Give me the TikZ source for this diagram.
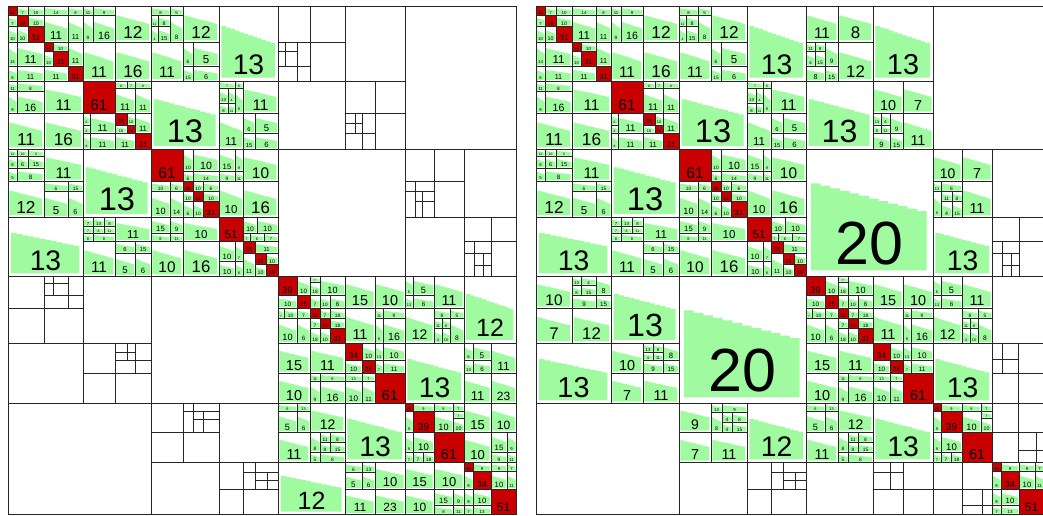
\documentclass[tikz,border=0pt]{standalone}
\usepackage{fontspec}
\setmainfont{Liberation Sans}
\definecolor{lrgreen}{RGB}{160,250,160}
\definecolor{dnred}{RGB}{200,0,0}
\tikzset{
  blk/.style={draw=black!85, line width=0.9pt},
  lrfill/.style={fill=lrgreen},
  dnfill/.style={fill=dnred},
  lab/.style={inner sep=0pt, anchor=base, text=black}
}
% low rank block: x1 y1 x2 y2 rank
\newcommand{\lrb}[5]{%
  \pgfmathsetmacro\blkw{#3-#1}%
  \pgfmathsetmacro\blkh{#4-#2}%
  \pgfmathsetmacro\blkfs{0.48*min(\blkw,\blkh)}%
  \pgfmathsetmacro\blkxl{#1+0.04*\blkw}%
  \pgfmathsetmacro\blkst{0.91*\blkw/12}%
  \pgfmathsetmacro\blkyb{#4-0.045*\blkh}%
  \fill[lrfill] (\blkxl,\blkyb)
    \foreach \k in {0,...,11}{
      -- ({\blkxl+\k*\blkst},{#2+\blkh*(0.27+0.02*\k)})
      -- ({\blkxl+(\k+1)*\blkst},{#2+\blkh*(0.27+0.02*\k)})}
    -- ({\blkxl+12*\blkst},\blkyb) -- cycle;
  \draw[blk] (#1,#2) rectangle (#3,#4);
  \node[lab,font=\fontsize{\blkfs}{\blkfs}\selectfont] (r-#1-#2) at ({#1+0.5*\blkw},{#4-0.09*\blkh}) {#5};
}
% dense block
\newcommand{\dnb}[5]{%
  \pgfmathsetmacro\blkw{#3-#1}%
  \pgfmathsetmacro\blkh{#4-#2}%
  \pgfmathsetmacro\blkfs{0.48*min(\blkw,\blkh)}%
  \fill[dnfill] (#1,#2) rectangle (#3,#4);
  \draw[blk] (#1,#2) rectangle (#3,#4);
  \node[lab,font=\fontsize{\blkfs}{\blkfs}\selectfont] (d-#1-#2) at ({#1+0.5*\blkw},{#4-0.09*\blkh}) {#5};
}
% empty block
\newcommand{\emb}[4]{\draw[blk] (#1,#2) rectangle (#3,#4);}

\newcommand{\quadTL}{%
\dnb{0}{0}{9}{9}{22}\lrb{9}{0}{20}{9}{7}\lrb{20}{0}{36}{9}{10}
\lrb{0}{9}{9}{20}{7}\dnb{9}{9}{20}{20}{19}\lrb{20}{9}{36}{20}{10}
\lrb{0}{20}{9}{36}{10}\lrb{9}{20}{20}{36}{10}\dnb{20}{20}{36}{36}{31}
\lrb{36}{0}{60}{9}{14}\lrb{60}{0}{75}{9}{8}\lrb{36}{9}{60}{36}{11}\lrb{60}{9}{75}{36}{11}
\lrb{0}{36}{9}{60}{14}\lrb{9}{36}{36}{60}{11}\lrb{0}{60}{9}{75}{8}\lrb{9}{60}{36}{75}{11}
\dnb{36}{36}{45}{45}{19}\lrb{45}{36}{60}{45}{10}\lrb{36}{45}{45}{60}{10}\dnb{45}{45}{60}{60}{31}
\lrb{60}{36}{75}{60}{11}\lrb{36}{60}{60}{75}{11}\dnb{60}{60}{75}{75}{31}
\lrb{75}{0}{85}{9}{11}\lrb{85}{0}{107}{9}{9}\lrb{75}{9}{85}{36}{9}\lrb{85}{9}{107}{36}{16}
\lrb{107}{0}{143}{36}{12}\lrb{75}{36}{107}{75}{11}\lrb{107}{36}{143}{75}{16}
\lrb{143}{0}{162}{9}{8}\lrb{162}{0}{175}{9}{5}
\lrb{143}{9}{150}{20}{11}\lrb{150}{9}{162}{20}{8}\lrb{143}{20}{150}{36}{4}\lrb{150}{20}{162}{36}{15}\lrb{162}{9}{175}{36}{8}
\lrb{175}{0}{211}{36}{12}\lrb{143}{36}{175}{75}{11}
\lrb{175}{36}{185}{60}{6}\lrb{185}{36}{211}{60}{5}\lrb{175}{60}{185}{75}{15}\lrb{185}{60}{211}{75}{6}
\lrb{211}{0}{270}{75}{13}
\lrb{0}{75}{9}{85}{11}\lrb{9}{75}{36}{85}{8}\lrb{0}{85}{9}{107}{9}\lrb{9}{85}{36}{107}{16}
\lrb{36}{75}{75}{107}{11}\lrb{0}{107}{36}{143}{11}\lrb{36}{107}{75}{143}{16}
\dnb{75}{75}{107}{107}{61}
\lrb{107}{75}{119}{82}{8}\lrb{119}{75}{127}{82}{7}\lrb{127}{75}{143}{82}{8}\lrb{107}{82}{127}{107}{11}\lrb{127}{82}{143}{107}{11}
\lrb{75}{107}{82}{119}{6}\lrb{75}{119}{82}{127}{4}\lrb{82}{107}{107}{127}{11}\lrb{75}{127}{82}{143}{8}\lrb{82}{127}{107}{143}{11}
\dnb{107}{107}{119}{119}{25}\lrb{119}{107}{127}{119}{10}\lrb{107}{119}{119}{127}{10}\dnb{119}{119}{127}{127}{19}
\lrb{127}{107}{143}{127}{11}\lrb{107}{127}{127}{143}{11}\dnb{127}{127}{143}{143}{31}
\lrb{143}{75}{211}{143}{13}
\lrb{211}{75}{227}{82}{7}\lrb{227}{75}{235}{82}{8}
\lrb{211}{82}{220}{97}{13}\lrb{220}{82}{227}{97}{4}\lrb{211}{97}{220}{107}{8}\lrb{220}{97}{227}{107}{11}\lrb{227}{82}{235}{107}{8}
\lrb{235}{75}{270}{107}{11}\lrb{211}{107}{235}{143}{11}
\lrb{235}{107}{247}{127}{6}\lrb{247}{107}{270}{127}{5}\lrb{235}{127}{247}{143}{15}\lrb{247}{127}{270}{143}{6}
\lrb{0}{143}{9}{150}{11}\lrb{9}{143}{20}{150}{10}\lrb{20}{143}{36}{150}{6}
\lrb{0}{150}{9}{162}{8}\lrb{9}{150}{20}{162}{6}\lrb{20}{150}{36}{162}{15}
\lrb{0}{162}{9}{175}{5}\lrb{9}{162}{36}{175}{8}
\lrb{36}{143}{75}{175}{11}\lrb{0}{175}{36}{211}{12}
\lrb{36}{175}{60}{185}{6}\lrb{60}{175}{75}{185}{15}\lrb{36}{185}{60}{211}{5}\lrb{60}{185}{75}{211}{6}
\lrb{75}{143}{143}{211}{13}
\dnb{143}{143}{175}{175}{61}
\lrb{175}{143}{185}{165}{10}\lrb{185}{143}{211}{165}{10}\lrb{175}{165}{185}{175}{6}\lrb{185}{165}{211}{175}{14}
\lrb{143}{175}{162}{185}{10}\lrb{162}{175}{175}{185}{6}\lrb{143}{185}{162}{211}{10}\lrb{162}{185}{175}{211}{14}
\dnb{175}{175}{185}{185}{25}\lrb{185}{175}{195}{185}{10}\lrb{195}{175}{211}{185}{6}
\lrb{175}{185}{185}{195}{10}\dnb{185}{185}{195}{195}{19}\lrb{195}{185}{211}{195}{10}
\lrb{175}{195}{185}{211}{6}\lrb{185}{195}{195}{211}{10}\dnb{195}{195}{211}{211}{31}
\lrb{211}{143}{227}{165}{15}\lrb{227}{143}{235}{165}{9}\lrb{211}{165}{227}{175}{9}\lrb{227}{165}{235}{175}{11}
\lrb{235}{143}{270}{175}{10}\lrb{211}{175}{235}{211}{10}\lrb{235}{175}{270}{211}{16}
\lrb{0}{211}{75}{270}{13}
\lrb{75}{211}{85}{220}{7}\lrb{85}{211}{96}{220}{13}\lrb{96}{211}{107}{220}{8}
\lrb{75}{220}{85}{227}{7}\lrb{85}{220}{96}{227}{8}\lrb{96}{220}{107}{227}{11}
\lrb{75}{227}{85}{235}{8}\lrb{85}{227}{107}{235}{8}
\lrb{107}{211}{143}{235}{11}\lrb{75}{235}{107}{270}{11}
\lrb{107}{235}{127}{247}{6}\lrb{127}{235}{143}{247}{15}\lrb{107}{247}{127}{270}{5}\lrb{127}{247}{143}{270}{6}
\lrb{143}{211}{162}{227}{15}\lrb{162}{211}{175}{227}{9}\lrb{143}{227}{162}{235}{8}\lrb{162}{227}{175}{235}{11}
\lrb{175}{211}{211}{235}{10}\lrb{143}{235}{175}{270}{10}\lrb{175}{235}{211}{270}{16}
\dnb{211}{211}{235}{235}{51}
\lrb{235}{211}{249}{227}{10}\lrb{249}{211}{270}{227}{10}\lrb{235}{227}{242}{235}{7}\lrb{242}{227}{256}{235}{6}\lrb{256}{227}{270}{235}{7}
\lrb{211}{235}{227}{255}{10}\lrb{227}{235}{235}{255}{7}\lrb{211}{255}{227}{270}{10}\lrb{227}{255}{235}{270}{8}
\dnb{235}{235}{247}{247}{25}\lrb{247}{235}{270}{247}{11}\lrb{235}{247}{247}{270}{11}
\dnb{247}{247}{258}{258}{25}\lrb{258}{247}{270}{258}{10}\lrb{247}{258}{258}{270}{10}\dnb{258}{258}{270}{270}{19}
}

\newcommand{\quadBR}{%
\dnb{270}{270}{289}{289}{39}\lrb{289}{270}{302}{289}{10}\lrb{270}{289}{289}{302}{10}\dnb{289}{289}{302}{302}{25}
\lrb{302}{270}{312}{276}{7}\lrb{302}{276}{312}{289}{18}\lrb{312}{270}{337}{289}{10}
\lrb{302}{289}{312}{302}{7}\lrb{312}{289}{322}{302}{10}\lrb{322}{289}{337}{302}{6}
\lrb{270}{302}{276}{312}{7}\lrb{276}{302}{289}{312}{10}\lrb{289}{302}{302}{312}{7}
\lrb{270}{312}{289}{337}{10}\lrb{289}{312}{302}{337}{6}
\dnb{302}{302}{312}{312}{22}\lrb{312}{302}{322}{312}{7}\lrb{322}{302}{337}{312}{18}
\lrb{302}{312}{312}{322}{7}\dnb{312}{312}{322}{322}{19}\lrb{322}{312}{337}{322}{18}
\lrb{302}{322}{312}{337}{18}\lrb{312}{322}{322}{337}{10}\dnb{322}{322}{337}{337}{31}
\lrb{337}{270}{367}{302}{15}\lrb{367}{270}{397}{302}{10}\lrb{337}{302}{367}{337}{11}
\lrb{367}{302}{375}{312}{11}\lrb{375}{302}{397}{312}{9}\lrb{367}{312}{375}{337}{9}\lrb{375}{312}{397}{337}{16}
\lrb{397}{270}{405}{289}{6}\lrb{405}{270}{426}{289}{5}\lrb{397}{289}{405}{302}{13}\lrb{405}{289}{426}{302}{6}
\lrb{426}{270}{456}{302}{11}\lrb{397}{302}{426}{337}{12}
\lrb{426}{302}{442}{312}{8}\lrb{442}{302}{456}{312}{5}
\lrb{426}{312}{434}{322}{11}\lrb{434}{312}{442}{322}{8}\lrb{426}{322}{434}{337}{4}\lrb{434}{322}{442}{337}{15}\lrb{442}{312}{456}{337}{8}
\lrb{270}{337}{302}{367}{15}\lrb{302}{337}{337}{367}{11}\lrb{270}{367}{302}{397}{10}
\lrb{302}{367}{312}{375}{11}\lrb{312}{367}{337}{375}{8}\lrb{302}{375}{312}{397}{9}\lrb{312}{375}{337}{397}{16}
\dnb{337}{337}{354}{354}{34}\lrb{354}{337}{367}{354}{10}\lrb{337}{354}{354}{367}{10}\dnb{354}{354}{367}{367}{25}
\lrb{367}{337}{375}{354}{13}\lrb{375}{337}{397}{354}{10}\lrb{367}{354}{375}{367}{7}\lrb{375}{354}{397}{367}{11}
\lrb{337}{367}{354}{375}{13}\lrb{354}{367}{367}{375}{7}\lrb{337}{375}{354}{397}{10}\lrb{354}{375}{367}{397}{11}
\dnb{367}{367}{397}{397}{61}
\lrb{397}{337}{456}{397}{13}
\lrb{270}{397}{289}{405}{6}\lrb{289}{397}{302}{405}{13}\lrb{270}{405}{289}{426}{5}\lrb{289}{405}{302}{426}{6}
\lrb{302}{397}{337}{426}{12}\lrb{270}{426}{302}{456}{11}
\lrb{302}{426}{312}{446}{8}
\lrb{312}{426}{322}{436}{11}\lrb{322}{426}{337}{436}{8}\lrb{312}{436}{322}{446}{8}\lrb{322}{436}{337}{446}{15}
\lrb{302}{446}{312}{456}{5}\lrb{312}{446}{337}{456}{8}
\lrb{337}{397}{397}{456}{13}
\dnb{397}{397}{405}{405}{20}\lrb{405}{397}{426}{405}{9}\lrb{397}{405}{405}{426}{9}\dnb{405}{405}{426}{426}{39}
\lrb{426}{397}{445}{405}{9}\lrb{445}{397}{456}{405}{7}\lrb{426}{405}{445}{426}{10}
\lrb{445}{405}{456}{412}{7}\lrb{445}{412}{456}{426}{10}
\lrb{397}{426}{405}{446}{9}\lrb{405}{426}{426}{446}{10}
\lrb{397}{446}{405}{456}{7}\lrb{405}{446}{415}{456}{7}\lrb{415}{446}{426}{456}{18}
\dnb{426}{426}{456}{456}{61}
\dnb{456}{456}{465}{465}{20}\lrb{465}{456}{483}{465}{9}\lrb{456}{465}{465}{483}{9}\dnb{465}{465}{483}{483}{34}
\lrb{483}{456}{499}{465}{9}\lrb{499}{456}{508}{465}{7}\lrb{483}{465}{499}{483}{10}\lrb{499}{465}{508}{483}{11}
\lrb{456}{483}{465}{499}{9}\lrb{465}{483}{483}{499}{10}\lrb{456}{499}{465}{508}{7}\lrb{465}{499}{483}{508}{13}
\dnb{483}{483}{508}{508}{51}
}

\newcommand{\gridcorner}{%
\emb{456}{211}{483}{235}\emb{483}{211}{508}{235}
\emb{456}{235}{466}{247}\emb{466}{235}{483}{247}\emb{456}{247}{466}{270}
\emb{466}{247}{475}{259}\emb{475}{247}{483}{259}\emb{466}{259}{475}{270}\emb{475}{259}{483}{270}
\emb{483}{235}{508}{270}
\emb{211}{456}{235}{483}\emb{211}{483}{235}{508}
\emb{235}{456}{247}{466}\emb{247}{456}{270}{466}\emb{235}{466}{247}{483}
\emb{247}{466}{259}{474}\emb{259}{466}{270}{474}\emb{247}{474}{259}{483}\emb{259}{474}{270}{483}
\emb{235}{483}{270}{508}
\emb{397}{0}{508}{143}\emb{0}{397}{143}{508}
\emb{456}{143}{508}{211}\emb{143}{456}{211}{508}
}

\begin{document}
\begin{tikzpicture}[x=1pt, y=-1pt]
\useasboundingbox[fill=white] (0,0) rectangle (1043,516);
\begin{scope}[shift={(8,6)}]
\quadTL
\quadBR
\gridcorner
\emb{270}{0}{302}{36}\emb{302}{0}{337}{36}
\emb{270}{36}{277}{45}\emb{277}{36}{289}{45}\emb{270}{45}{277}{60}\emb{277}{45}{289}{60}
\emb{289}{36}{302}{60}\emb{270}{60}{289}{75}\emb{289}{60}{302}{75}
\emb{302}{36}{337}{75}\emb{337}{0}{397}{75}\emb{270}{75}{337}{143}
\emb{337}{75}{367}{107}\emb{367}{75}{397}{107}
\emb{337}{107}{347}{117}\emb{347}{107}{354}{117}\emb{337}{117}{347}{127}\emb{347}{117}{354}{127}
\emb{354}{107}{367}{127}\emb{337}{127}{354}{143}\emb{354}{127}{367}{143}
\emb{367}{107}{397}{143}
\emb{270}{143}{397}{270}
\emb{397}{143}{426}{175}\emb{426}{143}{456}{175}
\emb{397}{175}{407}{185}\emb{407}{175}{426}{185}\emb{397}{185}{407}{211}
\emb{407}{185}{414}{195}\emb{414}{185}{426}{195}\emb{407}{195}{414}{211}\emb{414}{195}{426}{211}
\emb{426}{175}{456}{211}\emb{397}{211}{456}{270}
\emb{0}{270}{36}{302}
\emb{36}{270}{45}{277}\emb{45}{270}{60}{277}\emb{36}{277}{45}{289}\emb{45}{277}{60}{289}
\emb{60}{270}{75}{289}\emb{36}{289}{60}{302}\emb{60}{289}{75}{302}
\emb{0}{302}{36}{337}\emb{36}{302}{75}{337}\emb{75}{270}{143}{337}\emb{0}{337}{75}{397}
\emb{75}{337}{107}{367}
\emb{107}{337}{119}{346}\emb{119}{337}{127}{346}\emb{107}{346}{119}{354}\emb{119}{346}{127}{354}
\emb{127}{337}{143}{354}\emb{107}{354}{127}{367}\emb{127}{354}{143}{367}
\emb{75}{367}{107}{397}\emb{107}{367}{143}{397}
\emb{143}{270}{270}{397}
\emb{143}{397}{175}{426}
\emb{175}{397}{185}{405}\emb{185}{397}{211}{405}\emb{175}{405}{185}{426}
\emb{185}{405}{195}{413}\emb{195}{405}{211}{413}\emb{185}{413}{195}{426}\emb{195}{413}{211}{426}
\emb{143}{426}{175}{456}\emb{175}{426}{211}{456}\emb{211}{397}{270}{456}
\lrb{456}{270}{508}{337}{12}
\lrb{456}{337}{465}{354}{6}\lrb{465}{337}{483}{354}{5}\lrb{456}{354}{465}{367}{13}\lrb{465}{354}{483}{367}{6}
\lrb{483}{337}{508}{367}{11}\lrb{456}{367}{483}{397}{11}\lrb{483}{367}{508}{397}{23}
\lrb{456}{397}{483}{426}{15}\lrb{483}{397}{508}{426}{10}\lrb{456}{426}{483}{456}{10}
\lrb{483}{426}{499}{446}{15}\lrb{499}{426}{508}{446}{9}\lrb{483}{446}{499}{456}{9}\lrb{499}{446}{508}{456}{11}
\lrb{270}{456}{337}{508}{12}
\lrb{337}{456}{354}{466}{6}\lrb{354}{456}{367}{466}{13}\lrb{337}{466}{354}{483}{5}\lrb{354}{466}{367}{483}{6}
\lrb{367}{456}{397}{483}{10}\lrb{337}{483}{367}{508}{11}\lrb{367}{483}{397}{508}{23}
\lrb{397}{456}{426}{483}{15}\lrb{426}{456}{456}{483}{10}\lrb{397}{483}{426}{508}{10}
\lrb{426}{483}{445}{499}{15}\lrb{445}{483}{456}{499}{9}\lrb{426}{499}{445}{508}{8}\lrb{445}{499}{456}{508}{11}
\draw[blk] (0,0) rectangle (508,508);
\end{scope}
\begin{scope}[shift={(536,6)}]
\quadTL
\quadBR
\gridcorner
\lrb{270}{0}{302}{36}{11}\lrb{302}{0}{337}{36}{8}
\lrb{270}{36}{279}{45}{11}\lrb{279}{36}{289}{45}{8}\lrb{270}{45}{279}{60}{4}\lrb{279}{45}{289}{60}{15}
\lrb{289}{36}{302}{60}{9}\lrb{270}{60}{289}{75}{8}\lrb{289}{60}{302}{75}{15}
\lrb{302}{36}{337}{75}{12}\lrb{337}{0}{397}{75}{13}\lrb{270}{75}{337}{143}{13}
\lrb{337}{75}{367}{107}{10}\lrb{367}{75}{397}{107}{7}
\lrb{337}{107}{345}{119}{13}\lrb{345}{107}{354}{119}{4}\lrb{337}{119}{345}{127}{8}\lrb{345}{119}{354}{127}{11}
\lrb{354}{107}{367}{127}{9}\lrb{337}{127}{354}{143}{9}\lrb{354}{127}{367}{143}{15}
\lrb{367}{107}{397}{143}{11}
\lrb{270}{143}{397}{270}{20}
\lrb{397}{143}{426}{175}{10}\lrb{426}{143}{456}{175}{7}
\lrb{397}{175}{405}{185}{13}\lrb{405}{175}{426}{185}{8}\lrb{397}{185}{405}{211}{9}
\lrb{405}{185}{416}{195}{11}\lrb{416}{185}{426}{195}{8}\lrb{405}{195}{416}{211}{4}\lrb{416}{195}{426}{211}{15}
\lrb{426}{175}{456}{211}{11}\lrb{397}{211}{456}{270}{13}
\lrb{0}{270}{36}{302}{10}
\lrb{36}{270}{45}{279}{13}\lrb{45}{270}{60}{279}{4}\lrb{36}{279}{45}{289}{8}\lrb{45}{279}{60}{289}{15}
\lrb{60}{270}{75}{289}{8}\lrb{36}{289}{60}{302}{9}\lrb{60}{289}{75}{302}{15}
\lrb{0}{302}{36}{337}{7}\lrb{36}{302}{75}{337}{12}
\lrb{75}{270}{143}{337}{13}\lrb{0}{337}{75}{397}{13}
\lrb{75}{337}{107}{367}{10}
\lrb{107}{337}{117}{346}{13}\lrb{117}{337}{127}{346}{8}\lrb{107}{346}{117}{354}{4}\lrb{117}{346}{127}{354}{11}
\lrb{127}{337}{143}{354}{8}\lrb{107}{354}{127}{367}{9}\lrb{127}{354}{143}{367}{15}
\lrb{75}{367}{107}{397}{7}\lrb{107}{367}{143}{397}{11}
\lrb{143}{270}{270}{397}{20}
\lrb{143}{397}{175}{426}{9}
\lrb{175}{397}{186}{406}{13}\lrb{186}{397}{211}{406}{9}\lrb{175}{406}{186}{426}{8}
\lrb{186}{406}{196}{416}{4}\lrb{196}{406}{211}{416}{8}\lrb{186}{416}{196}{426}{4}\lrb{196}{416}{211}{426}{15}
\lrb{143}{426}{175}{456}{7}\lrb{175}{426}{211}{456}{11}
\lrb{211}{397}{270}{456}{12}
\emb{456}{270}{508}{337}
\emb{456}{337}{466}{353}\emb{466}{337}{482}{353}\emb{456}{353}{466}{367}\emb{466}{353}{482}{367}
\emb{482}{337}{508}{367}\emb{456}{367}{482}{397}\emb{482}{367}{508}{397}
\emb{456}{397}{482}{426}\emb{482}{397}{508}{426}\emb{456}{426}{482}{456}
\emb{482}{426}{500}{444}\emb{500}{426}{508}{444}\emb{482}{444}{500}{456}\emb{500}{444}{508}{456}
\emb{270}{456}{337}{508}
\emb{337}{456}{354}{466}\emb{354}{456}{367}{466}\emb{337}{466}{354}{483}\emb{354}{466}{367}{483}
\emb{367}{456}{397}{483}\emb{337}{483}{367}{508}\emb{367}{483}{397}{508}
\emb{397}{456}{426}{483}\emb{426}{456}{456}{483}\emb{397}{483}{426}{508}
\emb{426}{483}{446}{499}\emb{446}{483}{456}{499}\emb{426}{499}{446}{508}\emb{446}{499}{456}{508}
\draw[blk] (0,0) rectangle (508,508);
\end{scope}
\end{tikzpicture}
\end{document}
